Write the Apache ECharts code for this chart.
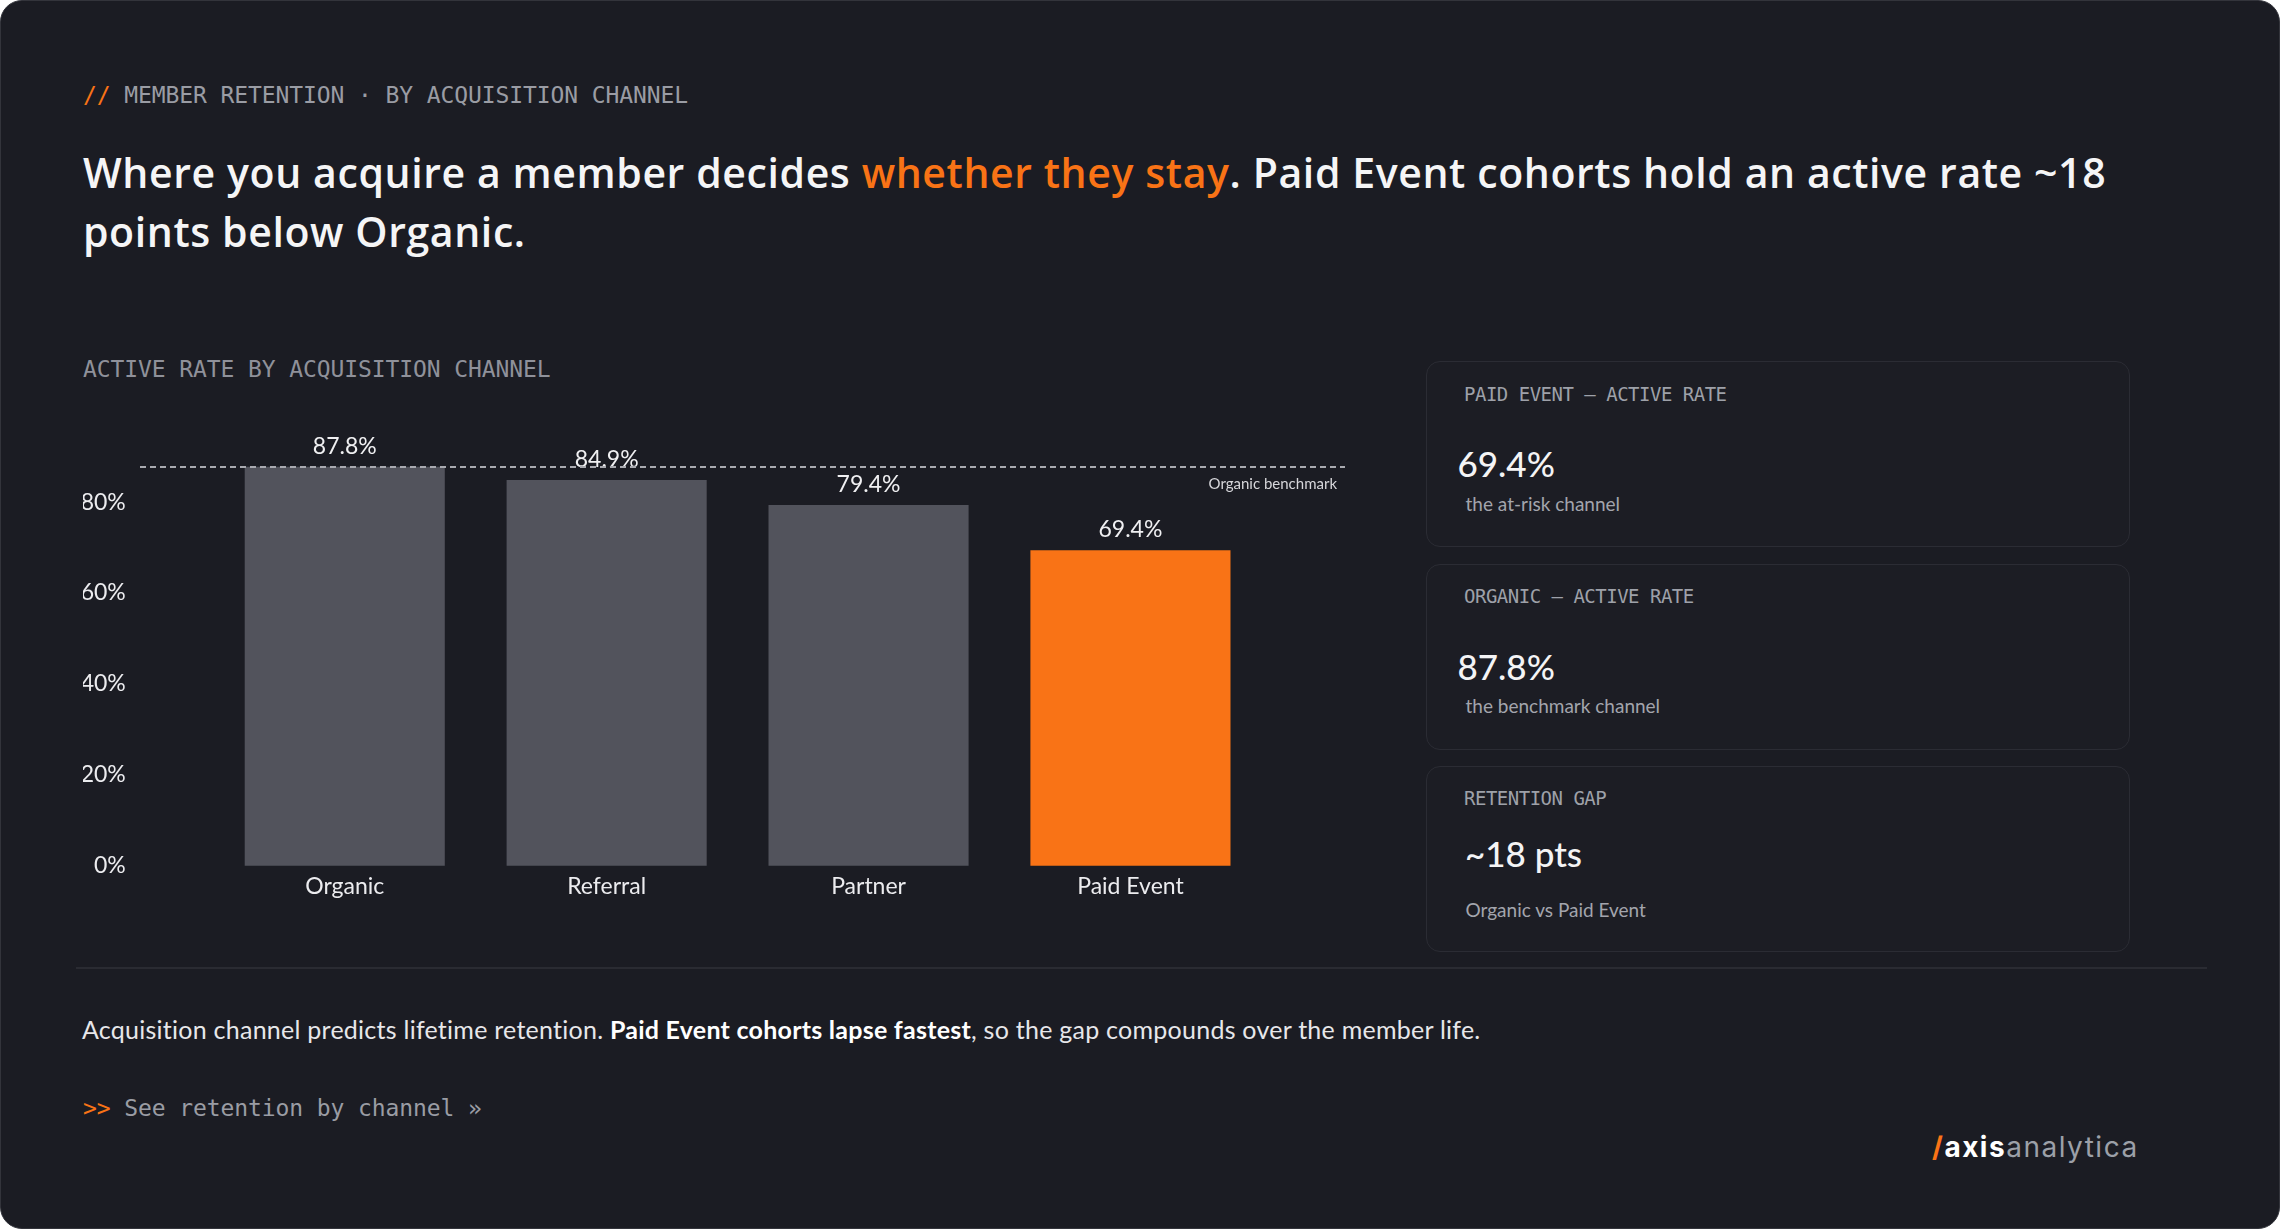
<!DOCTYPE html>
<html>
<head>
<meta charset="utf-8">
<script src="https://cdn.jsdelivr.net/npm/echarts@6/dist/echarts.min.js"></script>
<style>
  html, body { margin: 0; padding: 0; background: #ffffff; }
  body { width: 2281px; height: 1231px; position: relative; overflow: hidden; font-family: Lato, sans-serif; }
  .card { position: absolute; left: 0; top: 0; width: 2278px; height: 1227px; background: #1b1c23; border: 1px solid #33343b; border-radius: 22px; }
  .abs { position: absolute; white-space: nowrap; }
  .mono { font-family: "DejaVu Sans Mono", monospace; }
  .orange { color: #f97316; }
  .kpi { position: absolute; left: 1426px; width: 704px; height: 186px; box-sizing: border-box; background: #1c1d24; border: 1px solid #2b2c34; border-radius: 14px; }
  .kpi-label { font-size: 19px; line-height: 19px; letter-spacing: -0.5px; color: #9ea1a9; }
  .kpi-value { font-size: 35px; line-height: 35px; font-weight: 500; color: #f4f4f5; }
  .kpi-sub { font-size: 19px; line-height: 19px; color: #a3a5ad; }
</style>
</head>
<body>
<div class="card"></div>

<div class="abs mono" style="left:83px;top:83.5px;font-size:23px;line-height:23px;letter-spacing:-0.1px;color:#9a9ca4;"><span class="orange">//</span> MEMBER RETENTION · BY ACQUISITION CHANNEL</div>

<div class="abs" style="left:83px;top:142.5px;font-family:'Open Sans',sans-serif;font-size:41px;line-height:59px;font-weight:600;letter-spacing:0.6px;color:#f5f5f6;">Where you acquire a member decides <span class="orange">whether they stay</span>. Paid Event cohorts hold an active rate ~18<br>points below Organic.</div>

<div class="abs mono" style="left:83px;top:357.5px;font-size:23px;line-height:23px;letter-spacing:-0.1px;color:#8f919a;">ACTIVE RATE BY ACQUISITION CHANNEL</div>

<div id="chart" style="position:absolute;left:83px;top:380px;width:1262px;height:540px;"></div>

<div class="kpi" style="top:361px;"></div>
<div class="kpi" style="top:564px;"></div>
<div class="kpi" style="top:766px;"></div>

<div class="abs mono kpi-label" style="left:1464px;top:384.5px;">PAID EVENT — ACTIVE RATE</div>
<div class="abs kpi-value orange" id="kpiPaid" style="left:1457.5px;top:446px;"></div>
<div class="abs kpi-sub" style="left:1465.5px;top:494px;">the at-risk channel</div>

<div class="abs mono kpi-label" style="left:1464px;top:586.5px;">ORGANIC — ACTIVE RATE</div>
<div class="abs kpi-value" id="kpiOrganic" style="left:1457.5px;top:649px;"></div>
<div class="abs kpi-sub" style="left:1465.5px;top:695.7px;">the benchmark channel</div>

<div class="abs mono kpi-label" style="left:1464px;top:789px;">RETENTION GAP</div>
<div class="abs kpi-value" id="kpiGap" style="left:1465px;top:835.7px;"></div>
<div class="abs kpi-sub" style="left:1465.5px;top:899.7px;">Organic vs Paid Event</div>

<div class="abs" style="left:76px;top:967px;width:2131px;height:2px;background:#2a2b32;"></div>

<div class="abs" style="left:82px;top:1016.8px;font-size:25px;line-height:25px;letter-spacing:0.25px;color:#e7e7ea;">Acquisition channel predicts lifetime retention. <b style="font-weight:700;color:#ffffff;">Paid Event cohorts lapse fastest</b>, so the gap compounds over the member life.</div>

<div class="abs mono" style="left:83px;top:1096.5px;font-size:23px;line-height:23px;letter-spacing:-0.1px;color:#9a9ca4;"><span class="orange">&gt;&gt;</span> See retention by channel »</div>

<div class="abs" style="left:1932px;top:1133px;font-family:Inter,sans-serif;font-size:28px;line-height:28px;letter-spacing:1.5px;"><span class="orange" style="font-weight:700;">/</span><span style="font-weight:700;color:#ffffff;">axis</span><span style="color:#9ca0a8;">analytica</span></div>

<script>
  // data
  const channels = ["Organic", "Referral", "Partner", "Paid Event"];
  const activeRate = [87.8, 84.9, 79.4, 69.4];
  const atRiskChannel = "Paid Event";
  const benchmarkChannel = "Organic";
  const yTicks = [0, 20, 40, 60, 80];

  const benchmark = activeRate[channels.indexOf(benchmarkChannel)];
  const atRisk = activeRate[channels.indexOf(atRiskChannel)];

  document.getElementById("kpiPaid").textContent = atRisk + "%";
  document.getElementById("kpiOrganic").textContent = benchmark + "%";
  document.getElementById("kpiGap").textContent = "~" + Math.round(benchmark - atRisk) + " pts";

  const chart = echarts.init(document.getElementById("chart"), null, { renderer: "canvas" });

  const barData = activeRate.map((v, i) => ({
    value: v,
    itemStyle: { color: channels[i] === atRiskChannel ? "#f97316" : "#52535c" }
  }));

  chart.setOption({
    animation: false,
    textStyle: { fontFamily: "Lato" },
    grid: { left: 130.8, right: 83.6, top: 31.3, bottom: 54.3, containLabel: false, outerBoundsMode: "none" },
    xAxis: {
      type: "category",
      data: channels,
      axisLine: { show: false },
      axisTick: { show: false },
      axisLabel: { color: "#ececef", fontSize: 23, margin: 9 }
    },
    yAxis: {
      type: "value",
      min: yTicks[0],
      max: 100,
      interval: yTicks[1] - yTicks[0],
      splitLine: { show: false },
      axisLine: { show: false },
      axisTick: { show: false },
      axisLabel: {
        color: "#ececef",
        fontSize: 23,
        margin: 88,
        showMaxLabel: false,
        formatter: (v) => (yTicks.includes(v) ? v + "%" : "")
      }
    },
    series: [
      {
        type: "bar",
        data: barData,
        barCategoryGap: "23.6%",
        silent: true,
        label: {
          show: true,
          position: "top",
          distance: 9,
          color: "#f0f0f2",
          fontSize: 23,
          formatter: (p) => p.value.toFixed(1) + "%"
        },
        markLine: {
          silent: true,
          symbol: "none",
          lineStyle: { type: [6, 4], width: 2, color: "#a9aab0" },
          label: {
            show: true,
            position: "insideEndBottom",
            distance: [8, 10],
            formatter: "Organic benchmark",
            color: "#d6d6da",
            fontSize: 15
          },
          data: [[{ x: 57, yAxis: benchmark }, { x: "100%", yAxis: benchmark }]]
        }
      }
    ]
  });
</script>
</body>
</html>
